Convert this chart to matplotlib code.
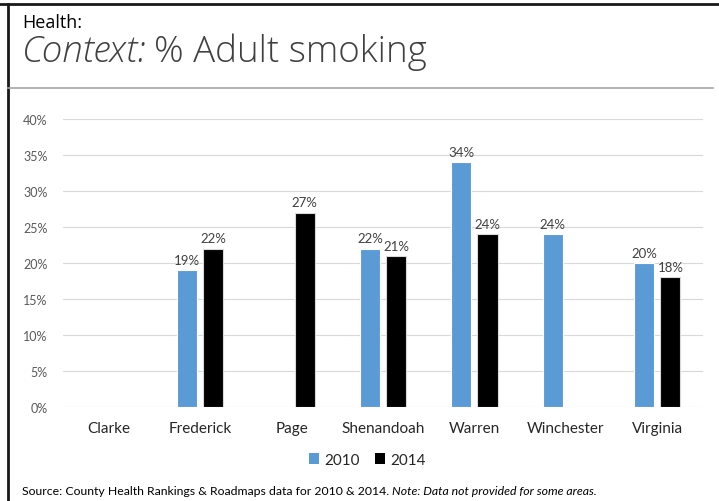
import numpy as np
import matplotlib
matplotlib.use("Agg")
import matplotlib.pyplot as plt
from matplotlib.lines import Line2D
from matplotlib.patches import Patch

# data (nan = not provided)
areas = ["Clarke", "Frederick", "Page", "Shenandoah", "Warren", "Winchester", "Virginia"]
smoking_2010 = [np.nan, 19, np.nan, 22, 34, 24, 20]
smoking_2014 = [np.nan, 22, 27, 21, 24, np.nan, 18]
yticks = [0, 5, 10, 15, 20, 25, 30, 35, 40]

blue = "#5B9BD5"
dark = "#000000"
grey_text = "#595959"

plt.rcParams["font.family"] = ["Lato", "DejaVu Sans"]

fig = plt.figure(figsize=(7.19, 5.02), dpi=100)
ax = fig.add_axes([63 / 719, 1 - 408 / 502, 640 / 719, 288 / 502])

x = np.arange(len(areas))
w = 0.22
off = 0.143

b1 = ax.bar(x - off, smoking_2010, w, color=blue, edgecolor="white", linewidth=0.8, zorder=3)
b2 = ax.bar(x + off, smoking_2014, w, color=dark, edgecolor="#d9d9d9", linewidth=0.8, zorder=3)

# value labels
for bars, vals in ((b1, smoking_2010), (b2, smoking_2014)):
    for rect, v in zip(bars, vals):
        if np.isnan(v):
            continue
        ax.annotate(f"{v:.0f}%", (rect.get_x() + rect.get_width() / 2, v),
                    xytext=(0, 3), textcoords="offset points",
                    ha="center", va="bottom", fontsize=9.5, color="#404040")

ax.set_xlim(-0.5, len(areas) - 0.5)
ax.set_ylim(0, 40)
ax.set_yticks(yticks)
ax.set_yticklabels([f"{t}%" for t in yticks], fontsize=9, color=grey_text)
ax.set_xticks(x)
ax.set_xticklabels(areas, fontsize=11, color="#262626")
ax.tick_params(axis="both", length=0)
ax.tick_params(axis="y", pad=11)
ax.tick_params(axis="x", pad=10)
ax.grid(axis="y", color="#d9d9d9", linewidth=0.8, zorder=0)
for s in ax.spines.values():
    s.set_visible(False)

# legend
handles = [Patch(facecolor=blue, edgecolor="none"), Patch(facecolor=dark, edgecolor="none")]
fig.legend(handles, ["2010", "2014"], loc="center", bbox_to_anchor=(367 / 719, 1 - 461 / 502),
           ncol=2, frameon=False, fontsize=11, handlelength=0.7, handleheight=0.7,
           handletextpad=0.3, columnspacing=1.0, labelcolor="#262626")

# frame + header
fig.add_artist(Line2D([0, 1], [1 - 5 / 502] * 2, color="#1a1a1a", linewidth=2.0))
fig.add_artist(Line2D([8 / 719] * 2, [0, 1 - 5 / 502], color="#1a1a1a", linewidth=2.0))
fig.add_artist(Line2D([8 / 719, 713 / 719], [1 - 89 / 502] * 2, color="#a6a6a6", linewidth=1.2))

fig.text(22 / 719, 1 - 28 / 502, "Health:", fontsize=13, color="#000000",
         family=["Open Sans", "DejaVu Sans"], va="baseline")
t1 = fig.text(22 / 719, 1 - 62 / 502, "Context:", fontsize=26.5, color="#404040", style="italic",
              family=["Open Sans", "DejaVu Sans"], weight="light", va="baseline")
fig.canvas.draw()
bb = t1.get_window_extent()
fig.text(bb.x1 / fig.bbox.width + 0.01, 1 - 62 / 502, "% Adult smoking", fontsize=26.5, color="#404040",
         family=["Open Sans", "DejaVu Sans"], weight="light", va="baseline")

# source line
src = fig.text(22 / 719, 1 - 492 / 502, "Source: County Health Rankings & Roadmaps data for 2010 & 2014. ",
               fontsize=8.8, color="#000000", va="center")
fig.canvas.draw()
bb = src.get_window_extent()
fig.text(bb.x1 / fig.bbox.width, 1 - 492 / 502, "Note: Data not provided for some areas.",
         fontsize=8.8, color="#000000", style="italic", va="center")

fig.savefig("out.png", dpi=100)
